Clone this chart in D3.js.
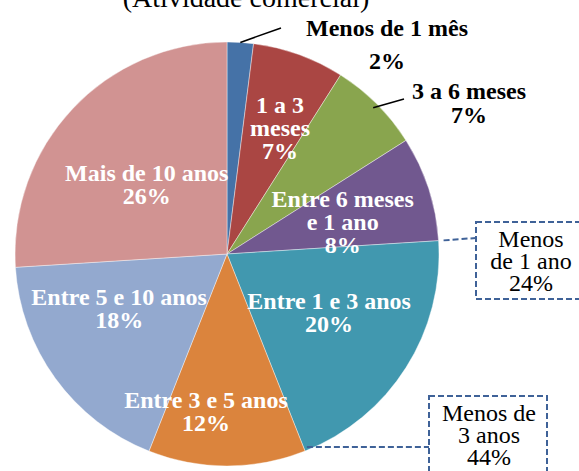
<!DOCTYPE html>
<html>
<head>
<meta charset="utf-8">
<script src="https://cdn.jsdelivr.net/npm/d3@7"></script>
<style>
    html, body { margin: 0; padding: 0; background: #fff; }
    svg { display: block; font-family: "Liberation Serif", "Times New Roman", serif; }
</style>
</head>
<body>
<svg class="chart" width="579" height="471"></svg>
<script>
(function () {
    'use strict';

    // slices, clockwise from 12 o'clock
    var categories = ['Menos de 1 mês', '1 a 3 meses', '3 a 6 meses', 'Entre 6 meses e 1 ano',
            'Entre 1 e 3 anos', 'Entre 3 e 5 anos', 'Entre 5 e 10 anos', 'Mais de 10 anos'],
        values = [2, 7, 7, 8, 20, 12, 18, 26],
        labelLines = [['Menos de 1 mês', '2%'], ['1 a 3', 'meses', '7%'], ['3 a 6 meses', '7%'],
            ['Entre 6 meses', 'e 1 ano', '8%'], ['Entre 1 e 3 anos', '20%'], ['Entre 3 e 5 anos', '12%'],
            ['Entre 5 e 10 anos', '18%'], ['Mais de 10 anos', '26%']],
        // grouped callouts: how many slices they cover, and their text
        groupEnds = [4, 5],
        groupLines = [['Menos', 'de 1 ano', '24%'], ['Menos de', '3 anos', '44%']],
        title = '(Atividade comercial)';

    var colors = ['#4572A7', '#AA4643', '#89A54E', '#71588F', '#4198AF', '#DB843D', '#93A9CF', '#D19392'];

    var cx = 227, cy = 254, r = 212, lineH = 23,
        // label placement (fraction of radius, angle in degrees); null = outside with leader
        labelPolar = [null, [0.646, 22.8], null, [0.566, 74.6], [0.555, 119.8], [0.75, 187.6], [0.57, 243.2], [0.5, 310.8]],
        outside = {0: {x: 387, y: 28, gap: 33, end: [281, 28], startR: 1.0},
            2: {x: 469, y: 91, gap: 24, end: [404, 99], startR: 0.975}},
        boxes = [{x: 476, y: 222, w: 122, h: 77, tx: 531, ty: 239, lead: 5},
            {x: 429, y: 396, w: 118, h: 100, tx: 489, ty: 413, lead: 5}],
        dashColor = '#3F6298';

    var svg = d3.select('.chart');

    svg.append('text')
        .attr('x', 246)
        .attr('y', 7)
        .attr('text-anchor', 'middle')
        .attr('font-size', '28px')
        .attr('fill', '#000')
        .text(title);

    var pie = d3.pie().sort(null).value(function (d) { return d; }),
        arcs = pie(values),
        arc = d3.arc().innerRadius(0).outerRadius(r),
        g = svg.append('g').attr('transform', 'translate(' + cx + ',' + cy + ')');

    g.selectAll('path.slice')
        .data(arcs)
        .enter().append('path')
        .attr('class', 'slice')
        .attr('d', arc)
        .attr('fill', function (d, i) { return colors[i]; })
        .attr('stroke', '#fff')
        .attr('stroke-opacity', 0.5)
        .attr('stroke-width', 0.8);

    function polar(rad, ang) {
        return [rad * Math.sin(ang), -rad * Math.cos(ang)];
    }

    // labels inside slices
    arcs.forEach(function (d, i) {
        var lp = labelPolar[i], p, lines, t, top;
        if (!lp) { return; }
        p = polar(lp[0] * r, lp[1] * Math.PI / 180);
        lines = labelLines[i];
        top = p[1] - (lines.length - 1) * lineH / 2;
        t = g.append('text')
            .attr('text-anchor', 'middle')
            .attr('font-size', '24px')
            .attr('font-weight', 'bold')
            .attr('fill', '#fff');
        lines.forEach(function (s, j) {
            t.append('tspan')
                .attr('x', p[0])
                .attr('y', top + j * lineH + 8)
                .text(s);
        });
    });

    // labels outside, with leader lines
    Object.keys(outside).forEach(function (k) {
        var i = +k, o = outside[k], d = arcs[i], mid = (d.startAngle + d.endAngle) / 2,
            s = polar(r * o.startR, mid), lines = labelLines[i], t;
        svg.append('line')
            .attr('x1', cx + s[0]).attr('y1', cy + s[1])
            .attr('x2', o.end[0]).attr('y2', o.end[1])
            .attr('stroke', '#000')
            .attr('stroke-width', 1.5);
        t = svg.append('text')
            .attr('text-anchor', 'middle')
            .attr('font-size', '24px')
            .attr('font-weight', 'bold')
            .attr('fill', '#000');
        lines.forEach(function (str, j) {
            t.append('tspan')
                .attr('x', o.x)
                .attr('y', o.y + j * o.gap + 8)
                .text(str);
        });
    });

    // dashed callout boxes for cumulative groups
    groupEnds.forEach(function (n, gi) {
        var b = boxes[gi], ang = arcs[n - 1].endAngle, s = polar(r + b.lead, ang), t;
        svg.append('path')
            .attr('d', gi === 0 ?
                'M' + (cx + s[0]) + ',' + (cy + s[1]) + 'L' + b.x + ',' + (b.y + 16) :
                'M' + (cx + s[0]) + ',' + (b.y + 51) + 'L' + b.x + ',' + (b.y + 51))
            .attr('fill', 'none')
            .attr('stroke', dashColor)
            .attr('stroke-width', 2)
            .attr('stroke-dasharray', '6,3');
        svg.append('rect')
            .attr('x', b.x).attr('y', b.y)
            .attr('width', b.w).attr('height', b.h)
            .attr('fill', '#fff')
            .attr('stroke', dashColor)
            .attr('stroke-width', 2)
            .attr('stroke-dasharray', '6,3');
        t = svg.append('text')
            .attr('text-anchor', 'middle')
            .attr('font-size', '24px')
            .attr('fill', '#000');
        groupLines[gi].forEach(function (str, j) {
            t.append('tspan')
                .attr('x', b.tx)
                .attr('y', b.ty + j * 22 + 8)
                .text(str);
        });
    });
}());
</script>
</body>
</html>
